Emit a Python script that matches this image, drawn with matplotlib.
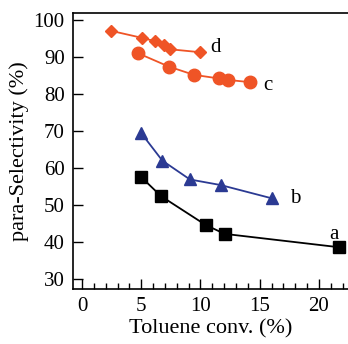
import matplotlib.pyplot as plt
from matplotlib.ticker import MultipleLocator

plt.rcParams['font.family'] = ['Liberation Serif', 'DejaVu Serif']

a_x = [4.98, 6.67, 10.44, 12.04, 21.66]
a_y = [57.6, 52.4, 44.6, 42.2, 38.6]
b_x = [4.98, 6.78, 9.11, 11.7, 16.03]
b_y = [69.5, 62.0, 56.9, 55.4, 51.8]
c_x = [4.75, 7.34, 9.43, 11.56, 12.35, 14.2]
c_y = [91.0, 87.4, 85.2, 84.2, 83.8, 83.2]
d_x = [2.42, 5.04, 6.14, 6.94, 7.43, 9.96]
d_y = [97.1, 95.2, 94.3, 93.2, 92.1, 91.3]

orange = '#EF5426'
blue = '#2B3A93'

fig = plt.figure(figsize=(3.48, 3.44), dpi=100)
ax = fig.add_axes([73 / 348, (344 - 289) / 344, 275 / 348, 276 / 344])

ax.plot(a_x, a_y, color='black', marker='s', ms=8.5, lw=1.3)
ax.plot(b_x, b_y, color=blue, marker='^', ms=9, lw=1.3)
ax.plot(c_x, c_y, color=orange, marker='o', ms=9, lw=1.3)
ax.plot(d_x, d_y, color=orange, marker='D', ms=6.5, lw=1.3)

ax.text(21.3, 42.0, 'a', fontsize=15, ha='center', va='center')
ax.text(18.0, 51.8, 'b', fontsize=15, ha='center', va='center')
ax.text(15.7, 82.4, 'c', fontsize=15, ha='center', va='center')
ax.text(11.3, 92.6, 'd', fontsize=15, ha='center', va='center')

ax.set_xlim(-0.76, 22.45)
ax.set_ylim(27.3, 101.9)
ax.xaxis.set_major_locator(MultipleLocator(5))
ax.xaxis.set_minor_locator(MultipleLocator(1))
ax.yaxis.set_major_locator(MultipleLocator(10))
ax.tick_params(direction='in', labelsize=15, length=7, width=1, pad=6)
ax.tick_params(which='minor', direction='in', length=4, width=1)
ax.spines['right'].set_visible(False)
for s in ['left', 'top', 'bottom']:
    ax.spines[s].set_linewidth(1.2)

ax.set_xlabel('Toluene conv. (%)', fontsize=16, labelpad=2)
ax.set_ylabel('para-Selectivity (%)', fontsize=16, labelpad=3)

fig.savefig('out.png', dpi=100)
